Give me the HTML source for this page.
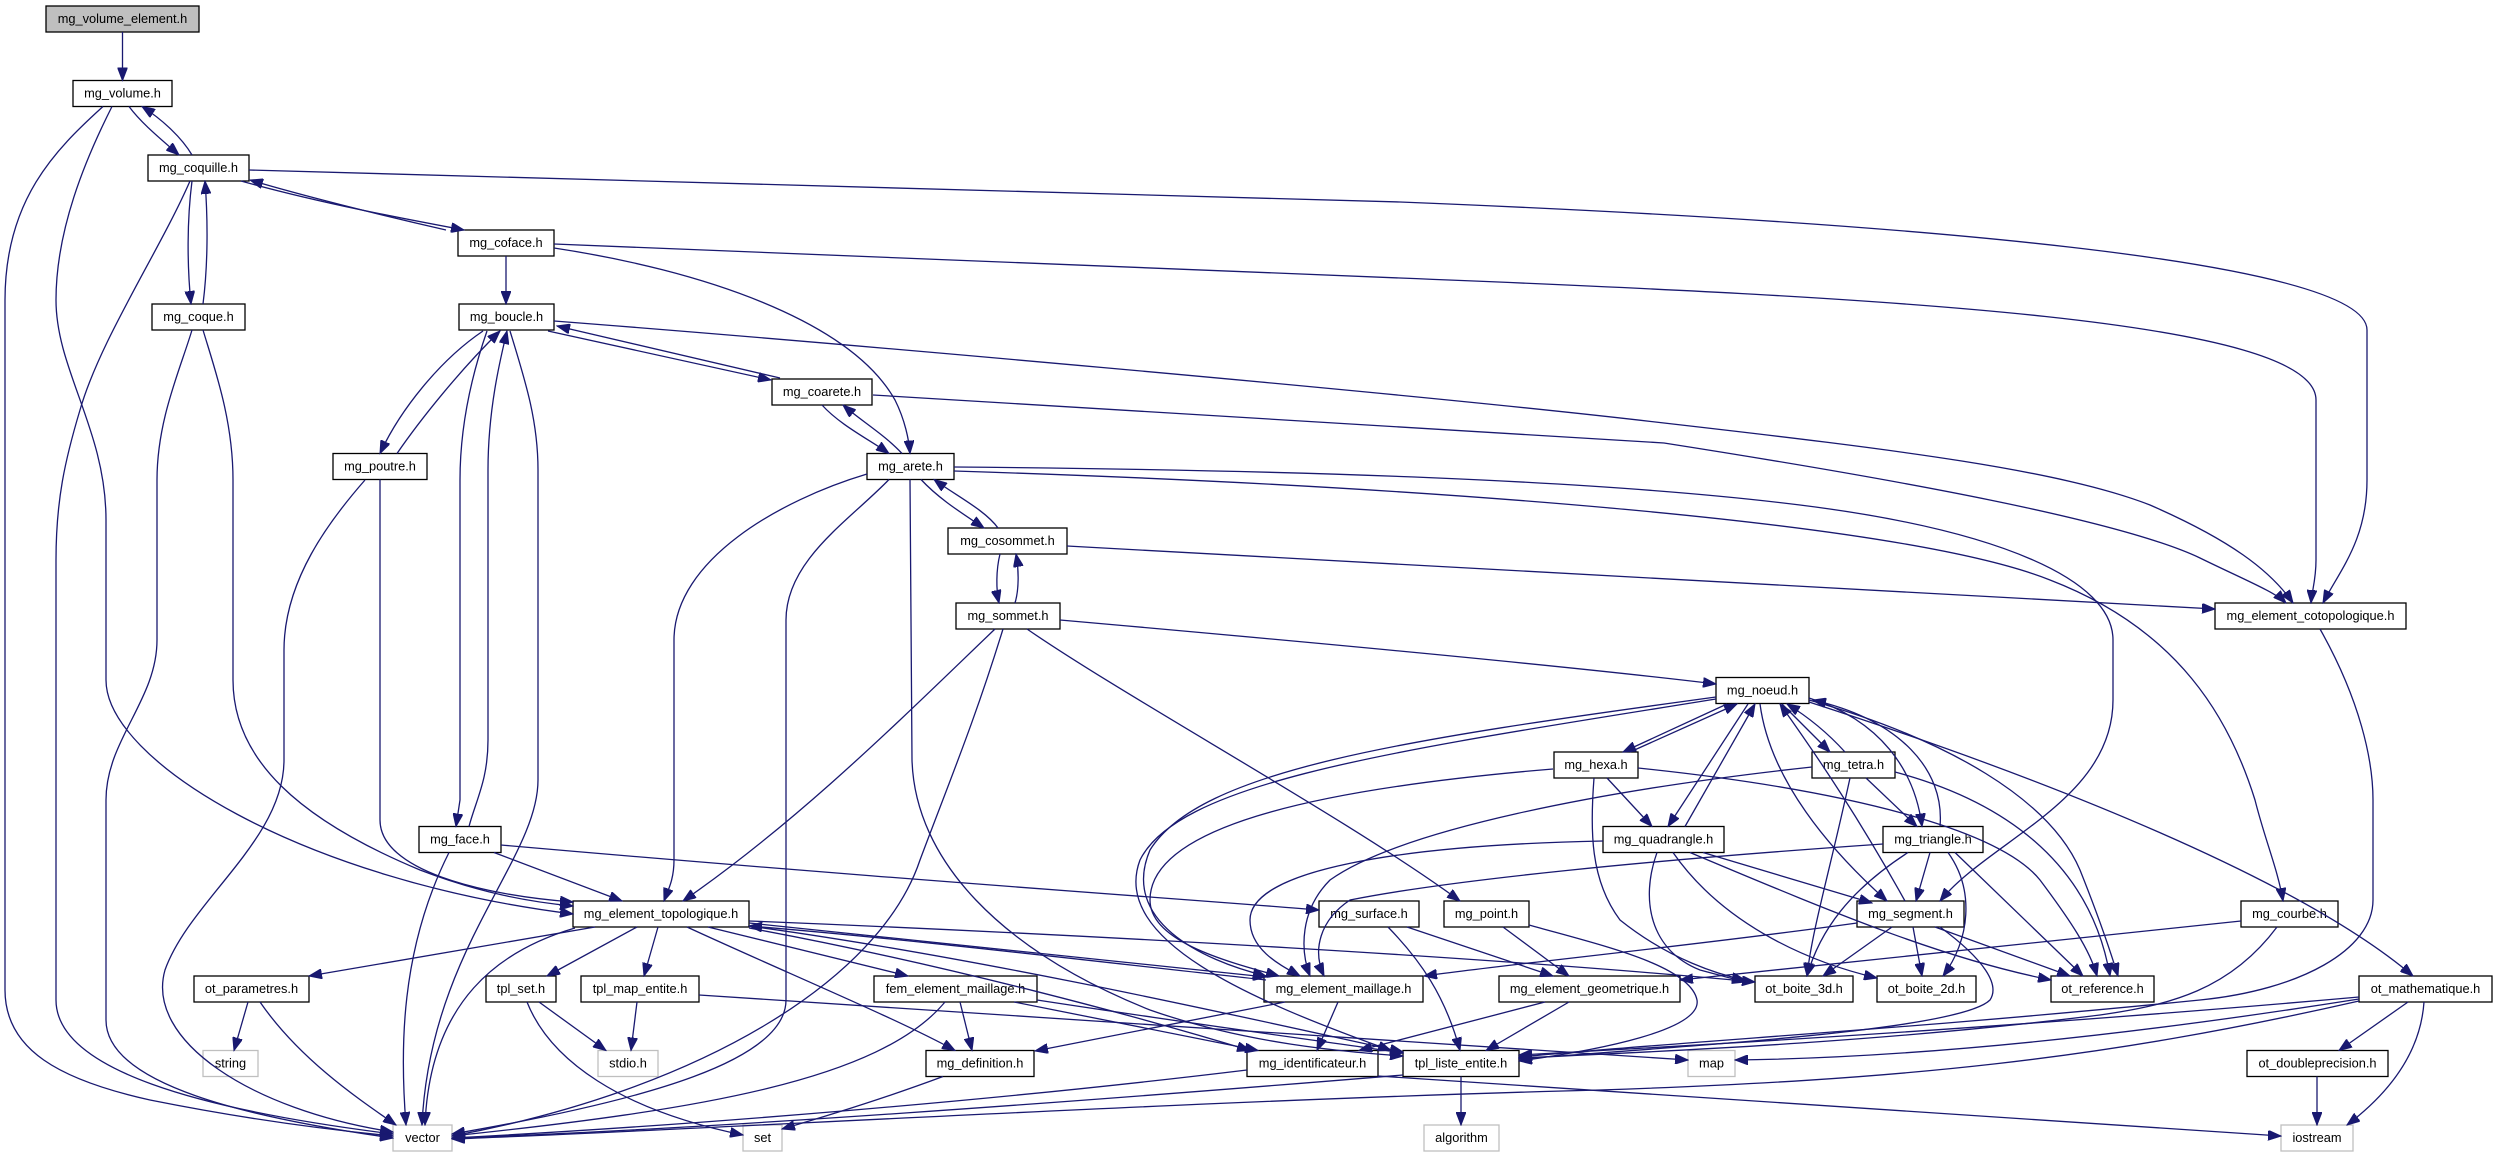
<!DOCTYPE html>
<html><head><meta charset="utf-8"><style>
html,body{margin:0;padding:0;background:#fff}
svg{display:block}
text{font-family:"Liberation Sans",Arial,sans-serif;font-size:12.8px;fill:#000;text-anchor:middle}
.e{fill:none;stroke:#191970;stroke-width:1.3}
.n{fill:#fff;stroke:#000;stroke-width:1.3}
.g{fill:#fff;stroke:#bfbfbf;stroke-width:1.3}
</style></head><body>
<svg width="2497" height="1157" viewBox="0 0 2497 1157" xmlns="http://www.w3.org/2000/svg">
<defs><marker id="a" markerWidth="14" markerHeight="10" refX="13" refY="5" orient="auto" markerUnits="userSpaceOnUse"><path d="M0,0 L13,5 L0,10 z" fill="#191970" stroke="#191970" stroke-width="1"/></marker></defs>
<rect x="0" y="0" width="2497" height="1157" fill="#fff"/>
<g>
<rect class="n" x="46" y="6" width="153" height="26" style="fill:#bfbfbf"/><text x="122.5" y="23">mg_volume_element.h</text>
<rect class="n" x="73" y="80.5" width="99" height="26"/><text x="122.5" y="97.5">mg_volume.h</text>
<rect class="n" x="148" y="155" width="101" height="26"/><text x="198.5" y="172">mg_coquille.h</text>
<rect class="n" x="458" y="230" width="96" height="26"/><text x="506" y="247">mg_coface.h</text>
<rect class="n" x="152" y="304" width="93" height="26"/><text x="198.5" y="321">mg_coque.h</text>
<rect class="n" x="459" y="304" width="95" height="26"/><text x="506.5" y="321">mg_boucle.h</text>
<rect class="n" x="772" y="379" width="100" height="26"/><text x="822" y="396">mg_coarete.h</text>
<rect class="n" x="333" y="453.5" width="94" height="26"/><text x="380" y="470.5">mg_poutre.h</text>
<rect class="n" x="867" y="453.5" width="87" height="26"/><text x="910.5" y="470.5">mg_arete.h</text>
<rect class="n" x="948" y="528" width="119" height="26"/><text x="1007.5" y="545">mg_cosommet.h</text>
<rect class="n" x="956" y="603" width="104" height="26"/><text x="1008" y="620">mg_sommet.h</text>
<rect class="n" x="2215" y="603" width="191" height="26"/><text x="2310.5" y="620">mg_element_cotopologique.h</text>
<rect class="n" x="1716" y="677.5" width="93" height="26"/><text x="1762.5" y="694.5">mg_noeud.h</text>
<rect class="n" x="1554" y="752" width="84" height="26"/><text x="1596" y="769">mg_hexa.h</text>
<rect class="n" x="1812" y="752" width="83" height="26"/><text x="1853.5" y="769">mg_tetra.h</text>
<rect class="n" x="419" y="826.5" width="82" height="26"/><text x="460" y="843.5">mg_face.h</text>
<rect class="n" x="1603" y="826.5" width="121" height="26"/><text x="1663.5" y="843.5">mg_quadrangle.h</text>
<rect class="n" x="1883" y="826.5" width="100" height="26"/><text x="1933" y="843.5">mg_triangle.h</text>
<rect class="n" x="573" y="901" width="176" height="26"/><text x="661" y="918">mg_element_topologique.h</text>
<rect class="n" x="1319" y="901" width="100" height="26"/><text x="1369" y="918">mg_surface.h</text>
<rect class="n" x="1444" y="901" width="85" height="26"/><text x="1486.5" y="918">mg_point.h</text>
<rect class="n" x="1857" y="901" width="107" height="26"/><text x="1910.5" y="918">mg_segment.h</text>
<rect class="n" x="2241" y="901" width="97" height="26"/><text x="2289.5" y="918">mg_courbe.h</text>
<rect class="n" x="194" y="976" width="115" height="26"/><text x="251.5" y="993">ot_parametres.h</text>
<rect class="n" x="486" y="976" width="70" height="26"/><text x="521" y="993">tpl_set.h</text>
<rect class="n" x="581" y="976" width="118" height="26"/><text x="640" y="993">tpl_map_entite.h</text>
<rect class="n" x="874" y="976" width="163" height="26"/><text x="955.5" y="993">fem_element_maillage.h</text>
<rect class="n" x="1264" y="976" width="159" height="26"/><text x="1343.5" y="993">mg_element_maillage.h</text>
<rect class="n" x="1499" y="976" width="181" height="26"/><text x="1589.5" y="993">mg_element_geometrique.h</text>
<rect class="n" x="1755" y="976" width="98" height="26"/><text x="1804" y="993">ot_boite_3d.h</text>
<rect class="n" x="1877" y="976" width="99" height="26"/><text x="1926.5" y="993">ot_boite_2d.h</text>
<rect class="n" x="2051" y="976" width="103" height="26"/><text x="2102.5" y="993">ot_reference.h</text>
<rect class="n" x="2359" y="976" width="133" height="26"/><text x="2425.5" y="993">ot_mathematique.h</text>
<rect class="g" x="203" y="1050.5" width="55" height="26"/><text x="230.5" y="1067.5">string</text>
<rect class="g" x="598" y="1050.5" width="60" height="26"/><text x="628" y="1067.5">stdio.h</text>
<rect class="n" x="926" y="1050.5" width="108" height="26"/><text x="980" y="1067.5">mg_definition.h</text>
<rect class="n" x="1247" y="1050.5" width="131" height="26"/><text x="1312.5" y="1067.5">mg_identificateur.h</text>
<rect class="n" x="1403" y="1050.5" width="116" height="26"/><text x="1461" y="1067.5">tpl_liste_entite.h</text>
<rect class="g" x="1688" y="1050.5" width="47" height="26"/><text x="1711.5" y="1067.5">map</text>
<rect class="n" x="2247" y="1050.5" width="141" height="26"/><text x="2317.5" y="1067.5">ot_doubleprecision.h</text>
<rect class="g" x="393" y="1125" width="59" height="26"/><text x="422.5" y="1142">vector</text>
<rect class="g" x="743" y="1125" width="39" height="26"/><text x="762.5" y="1142">set</text>
<rect class="g" x="1424" y="1125" width="75" height="26"/><text x="1461.5" y="1142">algorithm</text>
<rect class="g" x="2281" y="1125" width="72" height="26"/><text x="2317" y="1142">iostream</text>
</g>
<g class="e" marker-end="url(#a)">
<path class="e" marker-end="url(#a)" d="M122.5,32 L122.5,80.5"/>
<path class="e" marker-end="url(#a)" d="M129,106.5 C142,124 162,140 179,155"/>
<path class="e" marker-end="url(#a)" d="M192,155 C182,138 163,120 142,106.5"/>
<path class="e" marker-end="url(#a)" d="M103,106.5 C55,150 5,200 5,300 L5,990 C5,1050 60,1080 150,1100 C250,1120 330,1130 393,1136"/>
<path class="e" marker-end="url(#a)" d="M112,106.5 C85,160 56,230 56,300 C56,370 106,430 106,520 L106,680 C106,760 300,880 573,914"/>
<path class="e" marker-end="url(#a)" d="M190,181 C160,250 100,340 80,410 C65,460 56,500 56,560 L56,1000 C56,1070 200,1110 393,1134"/>
<path class="e" marker-end="url(#a)" d="M192,330 C180,370 157,420 157,480 L157,640 C157,700 106,740 106,800 L106,1020 C106,1085 250,1118 393,1138"/>
<path class="e" marker-end="url(#a)" d="M203,330 C215,370 233,420 233,480 L233,680 C233,760 300,820 420,870 C480,893 530,902 573,906"/>
<path class="e" marker-end="url(#a)" d="M365,480 C330,520 284,580 284,650 L284,760 C284,840 190,900 165,970 C145,1040 250,1110 393,1132"/>
<path class="e" marker-end="url(#a)" d="M380,479.5 L380,820 C380,870 480,895 573,902"/>
<path class="e" marker-end="url(#a)" d="M192,181 C187,220 187,265 191,304"/>
<path class="e" marker-end="url(#a)" d="M203,304 C208,265 208,220 205,181"/>
<path class="e" marker-end="url(#a)" d="M241,181 C320,203 400,218 464,230"/>
<path class="e" marker-end="url(#a)" d="M446,230 C380,215 300,195 250,180"/>
<path class="e" marker-end="url(#a)" d="M506,256 L506,304"/>
<path class="e" marker-end="url(#a)" d="M554,248 C700,270 850,320 895,400 C905,420 909,440 910,453.5"/>
<path class="e" marker-end="url(#a)" d="M554,244 L1400,278 C1900,298 2316,320 2316,400 L2316,560 C2316,580 2312,590 2311,603"/>
<path class="e" marker-end="url(#a)" d="M249,170 L1400,202 C1900,222 2367,260 2367,330 L2367,480 C2367,540 2340,570 2323,603"/>
<path class="e" marker-end="url(#a)" d="M554,321 C800,340 1400,392 1664,423 C1900,450 2060,470 2150,505 C2230,540 2270,570 2293,603"/>
<path class="e" marker-end="url(#a)" d="M873,395 L1664,443 C1900,480 2120,520 2200,558 C2245,580 2275,592 2286,603"/>
<path class="e" marker-end="url(#a)" d="M1067,546 L2215,609"/>
<path class="e" marker-end="url(#a)" d="M483,331 C440,360 400,410 380,453.5"/>
<path class="e" marker-end="url(#a)" d="M397,453.5 C420,420 460,370 500,331"/>
<path class="e" marker-end="url(#a)" d="M487,331 C470,380 460,430 460,480 L460,800 L456,826.5"/>
<path class="e" marker-end="url(#a)" d="M469,826.5 C476,800 488,780 488,740 L488,470 C488,410 500,360 507,331"/>
<path class="e" marker-end="url(#a)" d="M510,331 C525,380 538,420 538,470 L538,780 C538,860 430,950 422,1125"/>
<path class="e" marker-end="url(#a)" d="M548,331 L771,380"/>
<path class="e" marker-end="url(#a)" d="M780,378 L557,326"/>
<path class="e" marker-end="url(#a)" d="M822,405 C840,425 870,440 889,453.5"/>
<path class="e" marker-end="url(#a)" d="M902,453.5 C885,435 860,420 843,405"/>
<path class="e" marker-end="url(#a)" d="M921,479.5 C940,500 965,515 984,528"/>
<path class="e" marker-end="url(#a)" d="M998,528 C985,510 955,495 934,479.5"/>
<path class="e" marker-end="url(#a)" d="M1000,554 C996,570 996,590 999,603"/>
<path class="e" marker-end="url(#a)" d="M1015,603 C1019,590 1019,570 1016,554"/>
<path class="e" marker-end="url(#a)" d="M867,474 C780,500 674,560 674,640 L674,860 C674,880 668,890 664,901"/>
<path class="e" marker-end="url(#a)" d="M889,479.5 C850,520 786,560 786,620 L786,1000 C786,1060 650,1100 452,1134"/>
<path class="e" marker-end="url(#a)" d="M910,479.5 L912,760 C915,860 1000,950 1150,1010 C1250,1045 1350,1052 1403,1056"/>
<path class="e" marker-end="url(#a)" d="M954,467 C1300,470 1600,480 1800,505 C2000,530 2113,580 2113,640 L2113,700 C2113,800 1990,840 1940,901"/>
<path class="e" marker-end="url(#a)" d="M954,471 C1400,485 1900,520 2050,580 C2180,630 2230,720 2255,800 C2265,840 2278,870 2283,901"/>
<path class="e" marker-end="url(#a)" d="M1060,620 C1400,650 1600,670 1716,684"/>
<path class="e" marker-end="url(#a)" d="M995,629 C900,720 800,820 683,901"/>
<path class="e" marker-end="url(#a)" d="M1003,629 C975,720 950,780 920,860 C880,980 700,1090 452,1136"/>
<path class="e" marker-end="url(#a)" d="M1027,629 C1130,700 1350,820 1460,901"/>
<path class="e" marker-end="url(#a)" d="M595,927 L309,976"/>
<path class="e" marker-end="url(#a)" d="M575,928 C500,950 430,1000 425,1125"/>
<path class="e" marker-end="url(#a)" d="M637,927 L547,976"/>
<path class="e" marker-end="url(#a)" d="M658,927 L644,976"/>
<path class="e" marker-end="url(#a)" d="M687,927 C780,970 900,1020 955,1050.5"/>
<path class="e" marker-end="url(#a)" d="M708,927 L908,976"/>
<path class="e" marker-end="url(#a)" d="M749,921 C1100,935 1500,958 1755,982"/>
<path class="e" marker-end="url(#a)" d="M749,923 C1000,950 1150,965 1266,977"/>
<path class="e" marker-end="url(#a)" d="M1266,980 C1100,962 900,938 749,926"/>
<path class="e" marker-end="url(#a)" d="M749,926 C1000,960 1300,1030 1403,1052"/>
<path class="e" marker-end="url(#a)" d="M749,928 C950,965 1150,1020 1250,1050.5"/>
<path class="e" marker-end="url(#a)" d="M960,1002 L972,1050.5"/>
<path class="e" marker-end="url(#a)" d="M945,1002 C880,1080 700,1110 452,1136"/>
<path class="e" marker-end="url(#a)" d="M1014,1002 L1258,1050.5"/>
<path class="e" marker-end="url(#a)" d="M1037,1000 C1200,1025 1350,1045 1403,1053"/>
<path class="e" marker-end="url(#a)" d="M1285,1002 L1035,1051"/>
<path class="e" marker-end="url(#a)" d="M1338,1002 L1317,1050.5"/>
<path class="e" marker-end="url(#a)" d="M1388,927 C1420,960 1445,995 1460,1050.5"/>
<path class="e" marker-end="url(#a)" d="M1407,927 L1553,976"/>
<path class="e" marker-end="url(#a)" d="M1503,927 L1569,976"/>
<path class="e" marker-end="url(#a)" d="M1529,925 C1600,945 1690,965 1697,1000 C1702,1030 1600,1050 1519,1061"/>
<path class="e" marker-end="url(#a)" d="M1545,1002 L1359,1050.5"/>
<path class="e" marker-end="url(#a)" d="M1569,1002 L1486,1050.5"/>
<path class="e" marker-end="url(#a)" d="M1247,1070 C1000,1100 700,1125 452,1138"/>
<path class="e" marker-end="url(#a)" d="M1378,1076 C1700,1100 2000,1120 2281,1136"/>
<path class="e" marker-end="url(#a)" d="M1461,1076.5 L1461,1125"/>
<path class="e" marker-end="url(#a)" d="M1403,1075 C1100,1100 700,1130 452,1138"/>
<path class="e" marker-end="url(#a)" d="M943,1076.5 C880,1100 820,1118 782,1129"/>
<path class="e" marker-end="url(#a)" d="M539,1002 L606,1050.5"/>
<path class="e" marker-end="url(#a)" d="M527,1002 C550,1060 620,1110 743,1135"/>
<path class="e" marker-end="url(#a)" d="M637,1002 L631,1050.5"/>
<path class="e" marker-end="url(#a)" d="M699,995 L1688,1060"/>
<path class="e" marker-end="url(#a)" d="M248,1002 L234,1050.5"/>
<path class="e" marker-end="url(#a)" d="M260,1002 C300,1060 360,1100 396,1125"/>
<path class="e" marker-end="url(#a)" d="M2408,1002 L2339,1050.5"/>
<path class="e" marker-end="url(#a)" d="M2424,1002 C2420,1060 2380,1100 2347,1125"/>
<path class="e" marker-end="url(#a)" d="M2359,999 C2100,1040 1900,1058 1735,1060"/>
<path class="e" marker-end="url(#a)" d="M2359,997 C2100,1020 1800,1040 1519,1055"/>
<path class="e" marker-end="url(#a)" d="M2359,1001 C2100,1060 1900,1080 1600,1090 C1200,1100 700,1130 452,1139"/>
<path class="e" marker-end="url(#a)" d="M2317,1076.5 L2317,1125"/>
<path class="e" marker-end="url(#a)" d="M2241,921 L1680,980"/>
<path class="e" marker-end="url(#a)" d="M2277,927 C2230,990 2170,1005 2100,1015 C1900,1040 1700,1050 1519,1058"/>
<path class="e" marker-end="url(#a)" d="M2320,629 C2360,700 2373,760 2373,800 L2373,900 C2373,950 2300,990 2200,1000 C1900,1030 1700,1040 1519,1057"/>
<path class="e" marker-end="url(#a)" d="M1892,927 L1823,976"/>
<path class="e" marker-end="url(#a)" d="M1913,927 L1922,976"/>
<path class="e" marker-end="url(#a)" d="M1935,927 L2070,976"/>
<path class="e" marker-end="url(#a)" d="M1940,927 C1985,960 2000,985 1990,1000 C1960,1030 1700,1045 1519,1059"/>
<path class="e" marker-end="url(#a)" d="M1857,923 C1700,945 1500,965 1424,976"/>
<path class="e" marker-end="url(#a)" d="M1905,901 C1860,820 1820,760 1780,704"/>
<path class="e" marker-end="url(#a)" d="M1930,852.5 L1916,901"/>
<path class="e" marker-end="url(#a)" d="M1908,852.5 C1850,890 1820,930 1807,976"/>
<path class="e" marker-end="url(#a)" d="M1948,852.5 C1975,890 1970,940 1943,976"/>
<path class="e" marker-end="url(#a)" d="M1955,852.5 L2083,976"/>
<path class="e" marker-end="url(#a)" d="M1883,844 C1650,860 1450,880 1350,900 C1320,920 1312,950 1324,976"/>
<path class="e" marker-end="url(#a)" d="M1940,826.5 C1945,770 1900,720 1813,700"/>
<path class="e" marker-end="url(#a)" d="M1866,778 L1917,826.5"/>
<path class="e" marker-end="url(#a)" d="M1850,778 C1830,870 1812,930 1807,976"/>
<path class="e" marker-end="url(#a)" d="M1895,772 C2000,800 2090,860 2110,976"/>
<path class="e" marker-end="url(#a)" d="M1812,767 C1600,790 1400,830 1330,880 C1300,910 1300,950 1310,976"/>
<path class="e" marker-end="url(#a)" d="M1845,752 C1825,730 1805,715 1787,704"/>
<path class="e" marker-end="url(#a)" d="M1607,778 L1652,826.5"/>
<path class="e" marker-end="url(#a)" d="M1630,752 L1737,704"/>
<path class="e" marker-end="url(#a)" d="M1594,778 C1590,830 1590,880 1620,920 C1670,960 1720,975 1745,980"/>
<path class="e" marker-end="url(#a)" d="M1638,768 C1850,790 2000,830 2040,880 C2070,920 2090,950 2097,976"/>
<path class="e" marker-end="url(#a)" d="M1553,769 C1300,790 1150,830 1150,900 C1150,940 1220,960 1279,976"/>
<path class="e" marker-end="url(#a)" d="M1603,841 C1400,845 1250,870 1250,920 C1250,950 1280,965 1300,976"/>
<path class="e" marker-end="url(#a)" d="M1716,697 C1400,740 1200,770 1150,850 C1120,920 1200,960 1266,976"/>
<path class="e" marker-end="url(#a)" d="M1716,699 C1400,750 1180,780 1140,860 C1110,940 1250,1000 1391,1050.5"/>
<path class="e" marker-end="url(#a)" d="M1727,704 L1623,752"/>
<path class="e" marker-end="url(#a)" d="M1782,704 L1830,752"/>
<path class="e" marker-end="url(#a)" d="M1748,704 L1668,826.5"/>
<path class="e" marker-end="url(#a)" d="M1685,826.5 L1755,704"/>
<path class="e" marker-end="url(#a)" d="M1809,698 C1880,720 1915,770 1922,826.5"/>
<path class="e" marker-end="url(#a)" d="M1760,704 C1770,780 1830,850 1887,901"/>
<path class="e" marker-end="url(#a)" d="M1809,700 C1950,740 2050,800 2080,870 C2100,920 2110,950 2118,976"/>
<path class="e" marker-end="url(#a)" d="M1809,702 C2050,780 2300,880 2413,976"/>
<path class="e" marker-end="url(#a)" d="M1703,852.5 L1872,903"/>
<path class="e" marker-end="url(#a)" d="M1657,852.5 C1640,900 1650,950 1700,970 L1745,982"/>
<path class="e" marker-end="url(#a)" d="M1673,852.5 C1720,920 1800,960 1877,978"/>
<path class="e" marker-end="url(#a)" d="M1690,852.5 C1850,920 1950,960 2051,980"/>
<path class="e" marker-end="url(#a)" d="M449,852.5 C400,950 400,1050 406,1125"/>
<path class="e" marker-end="url(#a)" d="M494,852.5 L622,901"/>
<path class="e" marker-end="url(#a)" d="M501,845 C900,880 1200,900 1319,910"/>
</g>
</svg>
</body></html>
